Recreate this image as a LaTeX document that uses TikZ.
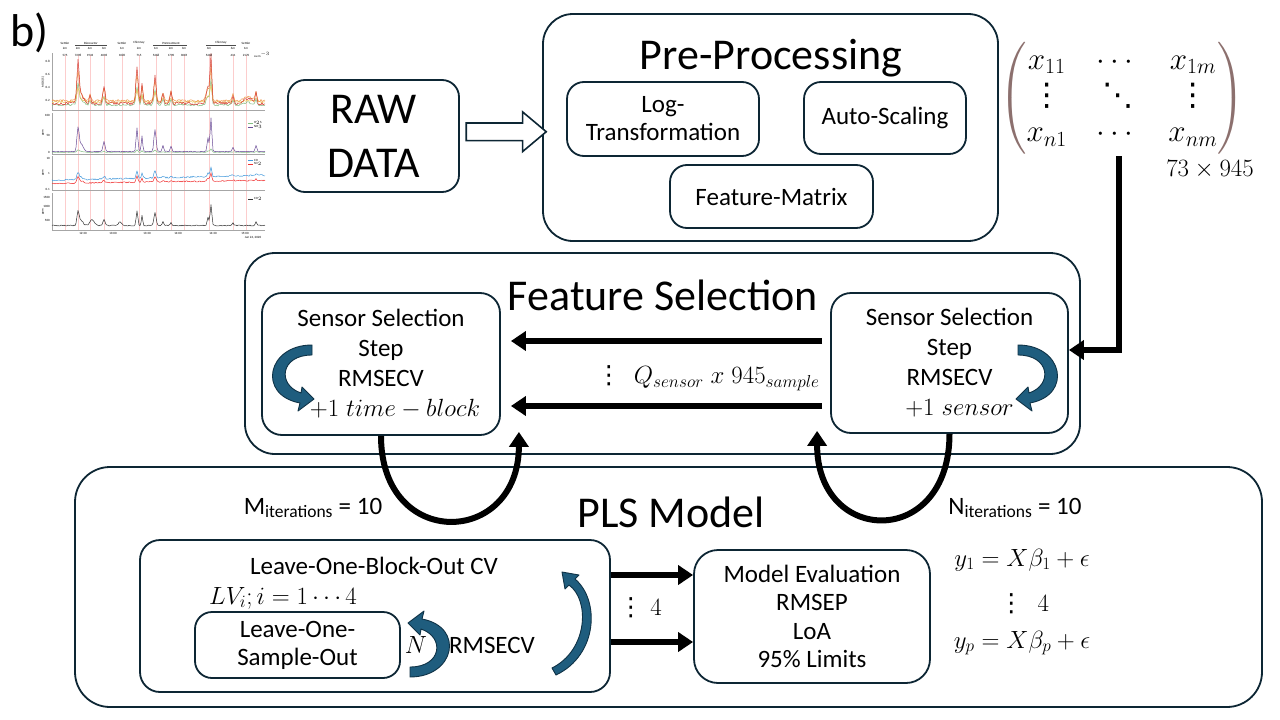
\documentclass[tikz,border=0pt]{standalone}
\usepackage{amsmath}
\usepackage{fontspec}
\setmainfont{Carlito}
\newfontfamily\dejavu{DejaVu Sans}
\usetikzlibrary{arrows.meta,positioning,shapes.arrows,calc}

\definecolor{boxline}{RGB}{13,38,52}
\definecolor{bendfill}{RGB}{31,93,126}
\definecolor{bendline}{RGB}{15,50,70}
\definecolor{parcol}{RGB}{140,112,110}
\definecolor{tracepink}{RGB}{252,205,205}
\definecolor{moxred}{RGB}{214,60,50}
\definecolor{moxorange}{RGB}{238,150,70}
\definecolor{moxgreen}{RGB}{130,190,130}
\definecolor{moxyellow}{RGB}{235,200,90}
\definecolor{nhpurple}{RGB}{105,75,150}
\definecolor{cosblue}{RGB}{70,155,220}
\definecolor{sored}{RGB}{240,50,50}

\newcommand{\vdts}{\mbox{\dejavu ⋮}}
\newcommand{\ddts}{\mbox{\dejavu ⋱}}

\tikzset{
  bendarrow/.pic={
    \draw[fill=bendfill, draw=bendline, line width=0.9pt, line join=round]
      (0,0) .. controls (-45,0) and (-55,50) .. (-12,58)
      -- (-14,66) -- (2,54) -- (-10,42) -- (-11,48)
      .. controls (-35,40) and (-32,10) .. (0,10) -- cycle;
  }
}

\begin{document}
\begin{tikzpicture}[
    x=1pt, y=-1pt,
    bigbox/.style={draw=boxline, line width=1.8pt, rounded corners=30pt},
    roundbox/.style={draw=boxline, line width=1.8pt, rounded corners=17pt, align=center, inner sep=0pt, font=\fontsize{25}{28}\selectfont},
    heading/.style={font=\fontsize{44}{50}\selectfont, inner sep=0pt},
    lbl/.style={font=\fontsize{25}{29}\selectfont, align=center, inner sep=0pt},
    fat/.style={line width=6pt, -{Triangle[width=19pt,length=15pt]}},
    trace/.style={line width=0.5pt, line join=round},
    mini/.style={font=\fontsize{3.2}{3.8}\selectfont, inner sep=0pt},
    declare function={
      cl(\xa,\ca,\wa)=min(abs(\xa-\ca)/\wa,3);
      sp(\xa,\ca,\wa)=exp(-cl(\xa,\ca,\wa)*cl(\xa,\ca,\wa));
      mox(\xa)=38*sp(\xa,78,1.5)+12*sp(\xa,80,4)+10*sp(\xa,90,1.2)+20*sp(\xa,104,1.5)+42*sp(\xa,137,1.5)+22*sp(\xa,142,1.2)+32*sp(\xa,155,1.5)+12*sp(\xa,163,1.2)+14*sp(\xa,171,1.2)+52*sp(\xa,211,1.2)+18*sp(\xa,208,2.5)+10*sp(\xa,233,1.2)+14*sp(\xa,256,1.2)+6*sp(\xa,248,5);
      nh(\xa)=22*sp(\xa,78,1.5)+8*sp(\xa,81,3)+10*sp(\xa,104,1.5)+24*sp(\xa,137,1.2)+16*sp(\xa,142,1)+22*sp(\xa,155,1.5)+6*sp(\xa,163,1.2)+5*sp(\xa,171,1.2)+34*sp(\xa,211,1.2)+14*sp(\xa,208,1.2)+4*sp(\xa,233,1.2)+6*sp(\xa,256,1.2);
    }
]
    \fill[white] (0,0) rectangle (1280,720);
    \useasboundingbox (0,0) rectangle (1280,720);
    \pgfmathsetseed{7}

    \node[font=\fontsize{46}{50}\selectfont, anchor=west, inner sep=0pt] (tag) at (10,33) {b)};

    % raw sensor traces (thumbnail)
    \foreach \xp in {65,78,90,104,122,139,156,171,184,209,233,246}
        \draw[tracepink, line width=0.6pt] (\xp,55) -- (\xp,230);
    \foreach \yt/\yb in {53/110,113/154,156/190,193/230}
        \draw[gray!70, line width=0.4pt] (52,\yt) -- (52,\yb) -- (265,\yb);
    \draw[trace, moxgreen] plot[domain=52:265, samples=214] (\x,{106-0.45*mox(\x)-2*rnd});
    \draw[trace, moxyellow] plot[domain=52:265, samples=214] (\x,{103-0.3*mox(\x)-2*rnd});
    \draw[trace, moxorange] plot[domain=52:265, samples=214] (\x,{102-0.65*mox(\x)-2.5*rnd});
    \draw[trace, moxred] plot[domain=52:265, samples=214] (\x,{105-0.9*mox(\x)-3*rnd});
    \draw[trace, moxgreen] plot[domain=52:265, samples=214] (\x,{152.5-0.1*nh(\x)-0.5*rnd});
    \draw[trace, nhpurple] plot[domain=52:265, samples=214] (\x,{152-nh(\x)-0.8*rnd});
    \draw[trace, cosblue] plot[domain=52:265, samples=214] (\x,{181-5*(\x-52)/213-0.3*nh(\x)-1.5*rnd});
    \draw[trace, sored] plot[domain=52:265, samples=214] (\x,{184-3*(\x-52)/213-0.25*nh(\x)-1.2*rnd});
    \draw[trace, black!80] plot[domain=52:265, samples=214] (\x,{226-0.6*nh(\x)-6*sp(\x,92,3)-4*sp(\x,120,2)-rnd});
    % legends
    \foreach \ly/\lc/\ltxt [count=\i] in {123/moxgreen/H$_2$S,127/nhpurple/NH$_3$,160/cosblue/CO,164/sored/SO$_2$,199/black!80/CO$_2$}{
        \draw[\lc, line width=0.8pt] (248,\ly) -- (253,\ly);
        \node[mini, anchor=west] (lg\i) at (254,\ly) {\ltxt};
    }
    % header labels
    \foreach \hx/\htxt [count=\i] in {65/Settler,91/Bioreactor,122/Settler,139/Chimney,171/Pretreatment,221/Chimney,246/Settler}
        \node[mini] (hd\i) at (\hx,43) {\htxt};
    \foreach \hx/\htxt [count=\i] in {65/2m,78/2m,90/4m,104/3m,122/1m,139/2m,156/1m,171/2m,184/3m,209/3m,233/6m,246/1m}
        \node[mini] (hs\i) at (\hx,48) {\htxt};
    \foreach \hx/\htxt [count=\i] in {65/575,78/7298,90/1933,104/4096,122/1085,139/715,156/5468,171/1790,184/3069,209/5468,233/431,246/2170,262/ou\,m$^{-3}$}
        \node[mini] (hn\i) at (\hx,55) {\htxt};
    \draw[black!70, line width=0.3pt] (75,45.5) -- (107,45.5) (153,45.5) -- (187,45.5) (206,45.5) -- (236,45.5);
    % axes texts
    \node[mini, rotate=90] (yl1) at (43,82) {MOX (S)};
    \foreach \yy [count=\i] in {133,173,212}
        \node[mini, rotate=90] (yl\i p) at (43,\yy) {ppm};
    \foreach \yy/\ytxt [count=\i] in {61/0.8,74/0.6,87/0.4,100/0.2,115/100,135/50,152/0,158/10,173/1,189/0.1,197/1500,206/1000,220/500}
        \node[mini, anchor=east] (yt\i) at (50,\yy) {\ytxt};
    \foreach \xx/\xtxt [count=\i] in {83/12:30,113/13:00,147/13:30,178/14:00,213/14:30,245/15:00}
        \node[mini] (xt\i) at (\xx,233) {\xtxt};
    \node[mini] (date) at (253,238) {Jun 24, 2020};

    % Pre-Processing
    \node[roundbox, minimum width=171, minimum height=112, font=\fontsize{44}{54}\selectfont] (raw) at (373.5,136) {RAW\\DATA};
    \node[bigbox, minimum width=455, minimum height=227] (pre) at (770.5,127.5) {};
    \node[heading] (pretitle) at (771,58) {Pre-Processing};
    \node[roundbox, minimum width=192, minimum height=74] (logt) at (663,119) {Log-\\Transformation};
    \node[roundbox, minimum width=162, minimum height=72] (autos) at (885,118) {Auto-Scaling};
    \node[roundbox, minimum width=203, minimum height=63] (featm) at (771.5,196.5) {Feature-Matrix};
    \node[single arrow, draw=boxline, line width=1.6pt, fill=white, minimum height=80pt,
          inner xsep=0pt, inner ysep=8pt, single arrow head extend=11pt, single arrow tip angle=80]
          (push) at ($(raw.east)!0.5!(pre.west)$) {};

    % feature matrix
    \node[font=\fontsize{25}{29}\selectfont, inner sep=0pt, scale=1.25, transform shape] (mat) at (1122,98)
        {\setlength\arraycolsep{12pt}$\color{parcol}\left(\color{black}\begin{matrix}
            x_{11} & \cdots & x_{1m}\\ \vdts & \ddts & \vdts\\ x_{n1} & \cdots & x_{nm}
         \end{matrix}\color{parcol}\right)$};
    \node[font=\fontsize{24}{28}\selectfont, inner sep=0pt] (dims) at (1210,170) {$73\times945$};
    \coordinate (matdrop) at (1119,156);

    % Feature Selection
    \node[bigbox, minimum width=835, minimum height=201] (fsel) at (662.5,353.5) {};
    \node[heading] (fseltitle) at (663,295) {Feature Selection};
    \node[roundbox, rounded corners=20pt, minimum width=238, minimum height=142, font=\fontsize{25}{30}\selectfont] (ssl) at (381,364)
        {Sensor Selection\\Step\\RMSECV\\\hspace*{28pt}$+1\;time-block$};
    \node[roundbox, rounded corners=20pt, minimum width=237, minimum height=140, font=\fontsize{25}{30}\selectfont] (ssr) at (949.5,363)
        {Sensor Selection\\Step\\RMSECV\\\hspace*{20pt}$+1\;sensor$};
    \pic at (312,345) {bendarrow};
    \pic[xscale=-1] at (1018,345) {bendarrow};
    \node[lbl] (qlabel) at (708,378) {$\vdts\enspace Q_{sensor}\;x\;945_{sample}$};

    \draw[fat] (matdrop) |- ([yshift=13pt]ssr.east);
    \draw[fat] ($(ssr.west)+(-8,-22)$) -- ($(ssl.east)+(10,-23)$);
    \draw[fat] ($(ssr.west)+(-8,43)$) -- ($(ssl.east)+(10,42)$);

    % PLS Model
    \node[bigbox, rounded corners=35pt, minimum width=1187, minimum height=240] (pls) at (668.5,587) {};
    \node[heading] (plstitle) at (671,512) {PLS Model};
    \node[lbl] (miter) at (313,508) {M\textsubscript{iterations} = 10};
    \node[lbl] (niter) at (1015,508) {N\textsubscript{iterations} = 10};
    \draw[fat] (ssl.south) .. controls +(0,115) and +(0,115) .. ($(ssl.south east)+(18,-4)$);
    \draw[fat] (ssr.south) .. controls +(0,115) and +(0,115) .. ($(ssr.south west)+(-13,-3)$);

    \node[roundbox, rounded corners=20pt, minimum width=470, minimum height=152] (lobo) at (375,616) {};
    \node[lbl] (lobotitle) at (374,566) {Leave-One-Block-Out CV};
    \node[lbl] (lvlabel) at (283,598) {$LV_i; i=1\cdots4$};
    \node[roundbox, minimum width=205, minimum height=66] (loso) at (297.5,645) {Leave-One-\\Sample-Out};
    \node[lbl] (nlabel) at (416,645) {$N$};
    \node[lbl] (rmsecv) at (492,645) {RMSECV};
    \pic[rotate=180] at (410,677) {bendarrow};
    % tall bent arrow back to the block loop
    \draw[fill=bendfill, draw=bendline, line width=0.9pt, line join=round]
        (556,675) .. controls (598,655) and (600,600) .. (575,579)
        -- (579,575) -- (562,572) -- (565,589) -- (569,585)
        .. controls (590,600) and (588,650) .. (552,668) -- cycle;

    \node[roundbox, rounded corners=24pt, minimum width=236, minimum height=133, font=\fontsize{25}{28.5}\selectfont] (me) at (812,616.5)
        {Model Evaluation\\RMSEP\\LoA\\95\% Limits};
    \draw[fat] ($(lobo.east)+(0,-41)$) -- ($(me.west)+(0,-41.5)$);
    \draw[fat] ($(lobo.east)+(0,26)$) -- ($(me.west)+(0,25.5)$);
    \node[lbl] (four) at (640,608) {$\vdts\;4$};

    \node[lbl] (eqone) at (1022,560) {$y_1 = X\beta_1+\epsilon$};
    \node[lbl] (eqdots) at (1024,604) {$\vdts\;\;4$};
    \node[lbl] (eqp) at (1022,643) {$y_p = X\beta_p+\epsilon$};
\end{tikzpicture}
\end{document}
